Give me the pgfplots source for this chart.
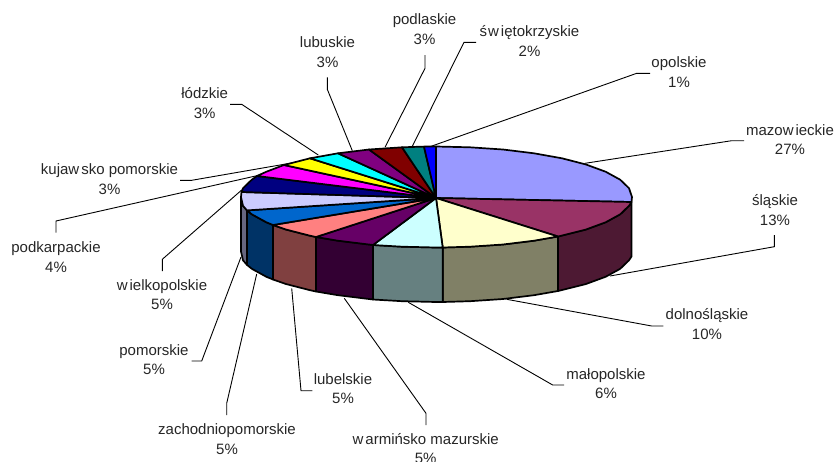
\documentclass[border=0pt]{standalone}
\usepackage{fontspec}
\setmainfont{Liberation Sans}
\usepackage{pgfplots}
\pgfplotsset{compat=1.18}
\definecolor{c1}{HTML}{9999FF}\definecolor{c2}{HTML}{993366}\definecolor{c3}{HTML}{FFFFCC}\definecolor{c4}{HTML}{CCFFFF}
\definecolor{c5}{HTML}{660066}\definecolor{c6}{HTML}{FF8080}\definecolor{c7}{HTML}{0066CC}\definecolor{c8}{HTML}{CCCCFF}
\definecolor{c9}{HTML}{000080}\definecolor{c10}{HTML}{FF00FF}\definecolor{c11}{HTML}{FFFF00}\definecolor{c12}{HTML}{00FFFF}
\definecolor{c13}{HTML}{800080}\definecolor{c14}{HTML}{800000}\definecolor{c15}{HTML}{008080}\definecolor{c16}{HTML}{0000FF}
\definecolor{d2}{HTML}{4D1933}\definecolor{d3}{HTML}{808066}\definecolor{d4}{HTML}{668080}\definecolor{d5}{HTML}{330033}
\definecolor{d6}{HTML}{804040}\definecolor{d7}{HTML}{003366}\definecolor{d8}{HTML}{666680}
\tikzset{lbl/.style={align=center,inner sep=0pt,font=\fontsize{15}{19.5}\selectfont,text=black!85},
  ld/.style={draw=black,line width=0.9pt},
  sl/.style={draw=black,line width=1.7pt,line join=round}}
\begin{document}
\begin{tikzpicture}
\clip (0,0) rectangle (836pt,461pt);
\begin{axis}[at={(0,0)},anchor=south west,scale only axis,width=836pt,height=461pt,
  xmin=0,xmax=836,ymin=0,ymax=461,y dir=reverse,hide axis,clip=false]
% leaders
\addplot[ld] coordinates {(650,73.3)(636.7,73.3)(430,146.7)};
\addplot[ld] coordinates {(744,140.7)(731.7,140.7)(585,163.3)};
\addplot[ld] coordinates {(774.3,235)(774.3,246.7)(610,276)};
\addplot[ld] coordinates {(663.3,326)(651.7,326)(506.7,299.3)};
\addplot[ld] coordinates {(564,385)(552.7,385)(408.3,302.3)};
\addplot[ld] coordinates {(426,425)(426,413.3)(344.3,298.3)};
\addplot[ld] coordinates {(312.3,390.7)(301,390.7)(291.7,288.3)};
\addplot[ld] coordinates {(226.7,415)(226.7,403.3)(256.7,274)};
\addplot[ld] coordinates {(191.7,361)(201.7,361)(241,257)};
\addplot[ld] coordinates {(162.3,271)(162.3,259.3)(241.7,190)};
\addplot[ld] coordinates {(56,232.7)(56,221)(260,175)};
\addplot[ld] coordinates {(180,180.3)(191.7,180.3)(293.3,162.7)};
\addplot[ld] coordinates {(230,104.3)(241.7,104.3)(318.3,155)};
\addplot[ld] coordinates {(327.3,77.3)(327.3,89.3)(352.3,150.7)};
\addplot[ld] coordinates {(425,55)(425,68.3)(385,147.3)};
\addplot[ld] coordinates {(476,42.3)(464,42.3)(412,147)};
% sides
\addplot[sl,fill=d2] coordinates {(631.5,202)(629,205.8)(620.2,214.3)(605.7,222.25)(586,229.5)(558,236.5)(558,291)(586,284)(605.7,276.75)(620.2,268.8)(629,260.3)(631.5,256.5)} --cycle;
\addplot[sl,fill=d3] coordinates {(558,236.5)(534,240.7)(503,244.5)(470,246.7)(442.7,247.5)(442.7,302)(470,301.2)(503,299)(534,295.2)(558,291)} --cycle;
\addplot[sl,fill=d4] coordinates {(442.7,247.5)(436,247.5)(402,246.7)(373,245)(373,299.5)(402,301.2)(436,302)(442.7,302)} --cycle;
\addplot[sl,fill=d5] coordinates {(373,245)(338,240.7)(316,237)(316,291.5)(338,295.2)(373,299.5)} --cycle;
\addplot[sl,fill=d6] coordinates {(316,237)(310,235.7)(285.9,229.5)(273,225)(273,279.5)(285.9,284)(310,290.2)(316,291.5)} --cycle;
\addplot[sl,fill=d7] coordinates {(273,225)(266.3,222.25)(251.8,214.3)(247,210.4)(247,264.9)(251.8,268.8)(266.3,276.75)(273,279.5)} --cycle;
\addplot[sl,fill=d8] coordinates {(247,210.4)(243,205.8)(241,197)(241,251.5)(243,260.3)(247,264.9)} --cycle;
% top
\addplot[sl,fill=c1] coordinates {(436,198)(436,146.5)(470,147.3)(503,149.5)(534,153.3)(562,158.3)(586,164.5)(605.7,171.75)(620.2,179.7)(629,188.2)(632,197)(631.5,202)} --cycle;
\addplot[sl,fill=c2] coordinates {(436,198)(631.5,202)(629,205.8)(620.2,214.3)(605.7,222.25)(586,229.5)(558,236.5)} --cycle;
\addplot[sl,fill=c3] coordinates {(436,198)(558,236.5)(534,240.7)(503,244.5)(470,246.7)(442.7,247.5)} --cycle;
\addplot[sl,fill=c4] coordinates {(436,198)(442.7,247.5)(436,247.5)(402,246.7)(373,245)} --cycle;
\addplot[sl,fill=c5] coordinates {(436,198)(373,245)(338,240.7)(316,237)} --cycle;
\addplot[sl,fill=c6] coordinates {(436,198)(316,237)(310,235.7)(285.9,229.5)(273,225)} --cycle;
\addplot[sl,fill=c7] coordinates {(436,198)(273,225)(266.3,222.25)(251.8,214.3)(247,210.4)} --cycle;
\addplot[sl,fill=c8] coordinates {(436,198)(247,210.4)(243,205.8)(241,197)(241.5,192)} --cycle;
\addplot[sl,fill=c9] coordinates {(436,198)(241.5,192)(243,188.2)(251.8,179.7)(257,176)} --cycle;
\addplot[sl,fill=c10] coordinates {(436,198)(257,176)(266.3,171.75)(284,165)} --cycle;
\addplot[sl,fill=c11] coordinates {(436,198)(284,165)(310,158.3)} --cycle;
\addplot[sl,fill=c12] coordinates {(436,198)(310,158.3)(338,153.3)} --cycle;
\addplot[sl,fill=c13] coordinates {(436,198)(338,153.3)(369,149.5)} --cycle;
\addplot[sl,fill=c14] coordinates {(436,198)(369,149.5)(402,147.3)} --cycle;
\addplot[sl,fill=c15] coordinates {(436,198)(402,147.3)(424,146.6)} --cycle;
\addplot[sl,fill=c16] coordinates {(436,198)(424,146.6)(436,146.5)} --cycle;
% labels
\node[lbl] at (axis cs:424.5,29) {podlaskie\\3\%};
\node[lbl] at (axis cs:529.5,41) {ś\kern1pt w\kern2pt iętokrzyskie\\2\%};
\node[lbl] at (axis cs:679,72) {opolskie\\1\%};
\node[lbl] at (axis cs:790,139.5) {mazow\kern2pt ieckie\\27\%};
\node[lbl] at (axis cs:775,210) {śląskie\\13\%};
\node[lbl] at (axis cs:707,324) {dolnośląskie\\10\%};
\node[lbl] at (axis cs:606,383.5) {małopolskie\\6\%};
\node[lbl] at (axis cs:425.7,448.5) {w\kern2pt armińsko mazurskie\\5\%};
\node[lbl] at (axis cs:343,388.5) {lubelskie\\5\%};
\node[lbl] at (axis cs:227,439) {zachodniopomorskie\\5\%};
\node[lbl] at (axis cs:154,359.5) {pomorskie\\5\%};
\node[lbl] at (axis cs:162,294.5) {w\kern2pt ielkopolskie\\5\%};
\node[lbl] at (axis cs:56,257) {podkarpackie\\4\%};
\node[lbl] at (axis cs:109.5,179) {kujaw\kern2pt sko pomorskie\\3\%};
\node[lbl] at (axis cs:204.7,103) {łódzkie\\3\%};
\node[lbl] at (axis cs:327.5,52) {lubuskie\\3\%};
\end{axis}
\end{tikzpicture}
\end{document}
